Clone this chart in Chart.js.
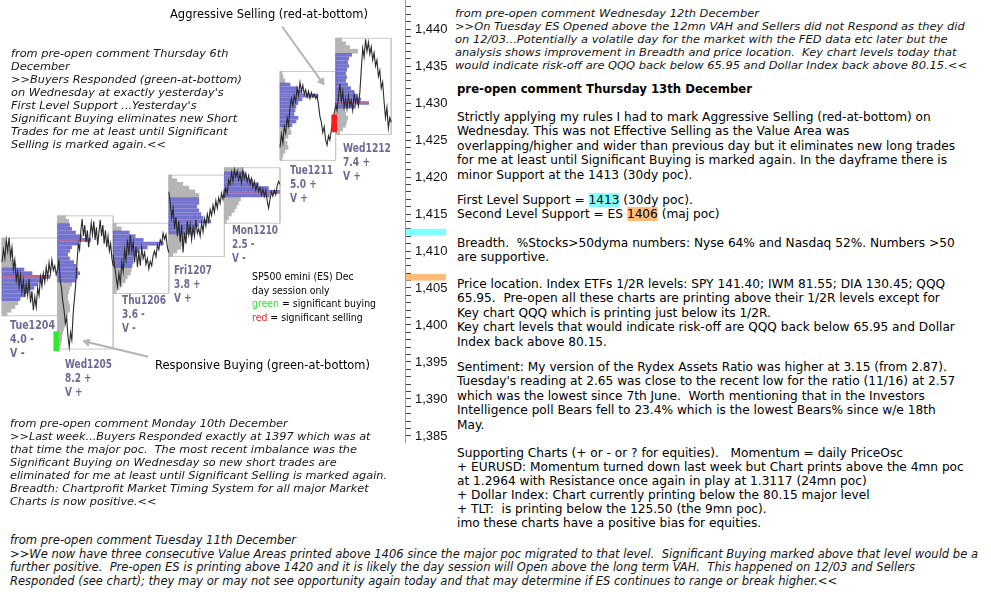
<!DOCTYPE html>
<html><head><meta charset="utf-8">
<script src="https://cdn.jsdelivr.net/npm/chart.js@4/dist/chart.umd.min.js"></script>
<style>
html,body{margin:0;padding:0;background:#fff;width:991px;height:595px;overflow:hidden;position:relative}
#wrap{position:absolute;left:0;top:0;width:455px;height:443px}
.t{position:absolute;white-space:pre;transform-origin:0 0;display:inline-block;z-index:2}
.it{font-family:"DejaVu Sans",Verdana,sans-serif;font-style:italic;font-size:11px;line-height:13.1px;color:#151515}
.itn{font-family:"Liberation Sans Narrow","DejaVu Sans",sans-serif;font-style:italic;font-size:12.5px;line-height:13.7px;color:#151515}
.body{font-family:"DejaVu Sans",Tahoma,sans-serif;font-size:12px;line-height:14.6px;color:#000}
.head{font-family:"DejaVu Sans",Tahoma,sans-serif;font-weight:bold;font-size:12px;line-height:15px;color:#000}
.day{font-family:"DejaVu Sans",Tahoma,sans-serif;font-weight:bold;font-size:11.5px;line-height:14px;color:#6a6a95}
.ann{font-family:"DejaVu Sans",Tahoma,sans-serif;font-size:12px;line-height:14px;color:#000}
.leg{font-family:"DejaVu Sans",Tahoma,sans-serif;font-size:11px;line-height:13.7px;color:#000}
.cy{background:#80ffff}.or{background:#ffbc78}
</style></head><body>
<div id="wrap"><canvas id="c" width="455" height="443"></canvas></div>

<div class="t ann" style="left:170px;top:7px" data-w="198">Aggressive Selling (red-at-bottom)</div>
<div class="t ann" style="left:155px;top:358px" data-w="215">Responsive Buying (green-at-bottom)</div>
<div class="t it" style="left:11px;top:46.5px" data-w="231">from pre-open comment Thursday 6th
December
&gt;&gt;Buyers Responded (green-at-bottom)
on Wednesday at exactly yesterday's
First Level Support ...Yesterday's
Significant Buying eliminates new Short
Trades for me at least until Significant
Selling is marked again.&lt;&lt;</div>
<div class="t leg" style="left:252px;top:270px" data-w="124">SP500 emini (ES) Dec
day session only
<span style="color:#2ee82e">green</span> = significant buying
<span style="color:#ff2020">red</span> = significant selling</div>

<div class="t day" style="left:10px;top:318px" data-w="45">Tue1204
4.0 -
V -</div>
<div class="t day" style="left:65px;top:357px" data-w="47">Wed1205
8.2 +
V +</div>
<div class="t day" style="left:122px;top:293px" data-w="44">Thu1206
3.6 -
V -</div>
<div class="t day" style="left:174px;top:263px" data-w="38">Fri1207
3.8 +
V +</div>
<div class="t day" style="left:232px;top:223px" data-w="46">Mon1210
2.5 -
V -</div>
<div class="t day" style="left:290px;top:163px" data-w="43">Tue1211
5.0 +
V +</div>
<div class="t day" style="left:343px;top:141px" data-w="48">Wed1212
7.4 +
V +</div>

<div class="t it" style="left:455px;top:7px" data-w="512">from pre-open comment Wednesday 12th December
&gt;&gt;On Tuesday ES Opened above the 12mn VAH and Sellers did not Respond as they did
on 12/03...Potentially a volatile day for the market with the FED data etc later but the
analysis shows improvement in Breadth and price location.  Key chart levels today that
would indicate risk-off are QQQ back below 65.95 and Dollar Index back above 80.15.&lt;&lt;</div>
<div class="t head" style="left:457px;top:81.5px" data-w="295">pre-open comment Thursday 13th December</div>

<div class="t body" id="p1" style="left:457px;top:109.7px" data-w="498">Strictly applying my rules I had to mark Aggressive Selling (red-at-bottom) on
Wednesday. This was not Effective Selling as the Value Area was
overlapping/higher and wider than previous day but it eliminates new long trades
for me at least until Significant Buying is marked again. In the dayframe there is
minor Support at the 1413 (30dy poc).</div>
<div class="t body" data-g="p1" style="left:457px;top:192.7px">First Level Support = <span class="cy">1413</span> (30dy poc).
Second Level Support = ES <span class="or">1406</span> (maj poc)</div>
<div class="t body" data-g="p1" style="left:457px;top:235.7px">Breadth.  %Stocks&gt;50dyma numbers: Nyse 64% and Nasdaq 52%. Numbers &gt;50
are supportive.</div>
<div class="t body" data-g="p1" style="left:457px;top:276.7px">Price location. Index ETFs 1/2R levels: SPY 141.40; IWM 81.55; DIA 130.45; QQQ
65.95.  Pre-open all these charts are printing above their 1/2R levels except for
Key chart QQQ which is printing just below its 1/2R.
Key chart levels that would indicate risk-off are QQQ back below 65.95 and Dollar
Index back above 80.15.</div>
<div class="t body" data-g="p1" style="left:457px;top:359.7px">Sentiment: My version of the Rydex Assets Ratio was higher at 3.15 (from 2.87).
Tuesday's reading at 2.65 was close to the recent low for the ratio (11/16) at 2.57
which was the lowest since 7th June.  Worth mentioning that in the Investors
Intelligence poll Bears fell to 23.4% which is the lowest Bears% since w/e 18th
May.</div>
<div class="t body" data-g="p1" style="left:457px;top:446px;line-height:14px">Supporting Charts (+ or - or ? for equities).   Momentum = daily PriceOsc
+ EURUSD: Momentum turned down last week but Chart prints above the 4mn poc
at 1.2964 with Resistance once again in play at 1.3117 (24mn poc)
+ Dollar Index: Chart currently printing below the 80.15 major level
+ TLT:  is printing below the 125.50 (the 9mn poc).
imo these charts have a positive bias for equities.</div>

<div class="t it" style="left:10px;top:416.5px" data-w="377">from pre-open comment Monday 10th December
&gt;&gt;Last week...Buyers Responded exactly at 1397 which was at
that time the major poc.  The most recent imbalance was the
Significant Buying on Wednesday so new short trades are
eliminated for me at least until Significant Selling is marked again.
Breadth: Chartprofit Market Timing System for all major Market
Charts is now positive.&lt;&lt;</div>
<div class="t itn" style="left:10px;top:533px" data-w="968">from pre-open comment Tuesday 11th December
&gt;&gt;We now have three consecutive Value Areas printed above 1406 since the major poc migrated to that level.  Significant Buying marked above that level would be a
further positive.  Pre-open ES is printing above 1420 and it is likely the day session will Open above the long term VAH.  This happened on 12/03 and Sellers
Responded (see chart); they may or may not see opportunity again today and that may determine if ES continues to range or break higher.&lt;&lt;</div>

<script>
// ---------------- data ----------------
const days = ['Tue1204','Wed1205','Thu1206','Fri1207','Mon1210','Tue1211','Wed1212'];
// TPO counts per 0.5-pt level, from each day's high downwards
const profileHigh = [1411.5, 1414.5, 1413.5, 1420, 1421, 1434, 1438.5];
const profileTue1204 = [3,5,6,8,10,9,12,14,22,30,48,40,36,32,26,22,18,16,13,9,5];
const profileWed1205 = [8,11,12,14,18,24,33,20,14,12,10,12,16,18,20,22,20,18,14,12,11,10,10,11,12,12,10,9,8,7,6,5,4,4,3,2];
const profileThu1206 = [3,8,16,22,30,50,34,26,22,20,20,19,18,17,14,12,9,6,3];
const profileFri1207 = [3,8,14,20,26,30,30,30,28,30,32,34,42,30,26,24,18,16,14,12,8,4];
const profileMon1210 = [18,20,22,28,34,44,55,45,16,14,12,10,7,4,2];
const profileTue1211 = [2,3,5,10,18,22,38,22,18,16,15,14,18,16,12,10,11,8,5,7,8,5,3,2];
const profileWed1212 = [6,10,14,22,16,13,12,13,11,10,11,10,12,15,18,22,25,33,20,9,10,12,11,10,7,4];
const pocs   = [1406.5, 1411.5, 1411, 1414, 1418, 1431, 1430];
const vaHigh = [1407.5, 1413.5, 1412.5, 1417, 1420.5, 1432.5, 1436.5];
const vaLow  = [1403.5, 1406, 1408, 1412.5, 1417.5, 1427, 1429.5];
// intraday price path, equal time steps through each session
const priceTue1204 = [1408.5,1410.2,1409.0,1411.5,1410.0,1411.8,1409.2,1410.5,1407.5,1408.8,1406.0,1407.2,1405.2,1406.8,1404.5,1406.0,1403.8,1405.5,1404.0,1406.2,1403.0,1404.6,1402.0,1403.8,1402.4,1405.0,1404.0,1406.5,1405.2,1407.0,1405.8,1407.8,1406.4,1408.4,1407.0,1408.8,1407.4,1408.0,1406.8,1407.6];
const priceWed1205 = [1407.5,1408.8,1406.0,1405.0,1403.2,1402.0,1400.2,1401.0,1398.5,1397.0,1399.0,1398.0,1401.5,1403.5,1405.5,1408.5,1411.0,1410.2,1412.8,1414.3,1412.0,1413.5,1411.2,1412.8,1410.5,1412.0,1413.8,1412.2,1414.0,1411.5,1413.2,1410.8,1412.6,1414.2,1412.0,1413.5,1411.0,1412.8,1410.5,1412.0,1410.0,1411.0,1409.0,1408.0];
const priceThu1206 = [1409.5,1408.0,1406.5,1405.2,1407.0,1405.6,1408.5,1407.2,1410.2,1408.8,1411.5,1409.5,1412.2,1410.0,1411.2,1408.5,1410.6,1407.8,1409.8,1408.0,1410.5,1409.0,1409.8,1408.2,1409.0,1407.6,1408.6,1408.0,1409.4,1410.0,1409.2,1410.8,1410.2,1411.5,1411.0,1412.4,1411.6,1412.2,1410.5,1409.8];
const priceFri1207 = [1418.0,1416.5,1414.5,1415.8,1413.0,1414.6,1412.0,1414.0,1411.2,1413.5,1409.8,1412.5,1411.0,1414.0,1412.2,1413.6,1411.5,1413.2,1412.0,1414.2,1412.4,1413.0,1412.0,1413.8,1412.6,1414.4,1413.4,1415.0,1414.0,1415.6,1414.8,1416.2,1415.2,1416.8,1415.8,1417.2,1416.4,1417.8,1417.0,1418.4];
const priceMon1210 = [1417.2,1418.5,1417.8,1419.6,1419.0,1420.6,1419.4,1421.0,1420.0,1420.8,1419.6,1420.4,1419.2,1420.9,1419.8,1420.5,1419.4,1420.2,1419.0,1419.8,1418.6,1419.4,1418.2,1419.0,1418.0,1418.6,1417.6,1418.4,1417.4,1418.2,1416.8,1415.8,1417.0,1418.0,1417.4,1418.2,1417.6,1418.8,1419.4,1419.0];
const priceTue1211 = [1424.0,1425.8,1424.6,1426.8,1426.0,1428.0,1427.0,1429.4,1430.6,1429.6,1431.0,1430.2,1432.0,1431.0,1432.8,1431.6,1432.4,1431.2,1431.8,1430.8,1431.6,1430.6,1431.4,1430.8,1431.2,1430.6,1431.0,1429.8,1428.2,1427.4,1426.0,1426.8,1425.0,1424.3,1425.6,1425.0,1426.4,1427.6,1428.6,1429.6];
const priceWed1212 = [1430.0,1429.0,1430.8,1432.6,1430.2,1431.6,1429.4,1430.6,1429.2,1431.0,1429.6,1430.4,1429.0,1431.2,1430.0,1430.8,1429.6,1431.4,1434.5,1437.4,1436.2,1438.6,1437.0,1438.2,1436.6,1437.6,1435.8,1436.8,1435.0,1435.8,1433.6,1434.4,1432.0,1432.8,1430.2,1428.0,1429.4,1426.6,1428.0,1427.4];
// significant buying / selling markers
const signalDay  = [1, 6];
const signalLow  = [1396.5, 1426.1];
const signalHigh = [1399.1, 1428.4];
const signalKind = ['buy', 'sell'];
// support levels marked on the price axis
const supportLevels = [1413, 1406];
const supportKind   = ['first', 'second'];
// annotation arrows [day position, price]
const arrowFrom = [[5.04, 1440.3], [2.63, 1395.7]];
const arrowTo   = [[5.75, 1432.9], [1.53, 1397.7]];
const labeledTicks = [1385,1390,1395,1400,1405,1410,1415,1420,1425,1430,1435,1440];

// ---------------- build ----------------
const profiles = [profileTue1204, profileWed1205, profileThu1206, profileFri1207, profileMon1210, profileTue1211, profileWed1212];
const prices = [priceTue1204, priceWed1205, priceThu1206, priceFri1207, priceMon1210, priceTue1211, priceWed1212];
const COUNT_UNIT = 1 / 55.6;
const STEP = 0.5;

const grayBars = [], blueBars = [];
const datasets = [];
profiles.forEach((arr, i) => {
  arr.forEach((c, k) => {
    const p = profileHigh[i] - k * STEP;
    const bar = { y: p, x: [i, i + c * COUNT_UNIT] };
    if (p <= vaHigh[i] + 1e-9 && p >= vaLow[i] - 1e-9) blueBars.push(bar); else grayBars.push(bar);
  });
  const hi = profileHigh[i] + 0.25, lo = profileHigh[i] - (arr.length - 1) * STEP - 0.25;
  datasets.push({ type: 'line', data: [{x:i,y:lo},{x:i,y:hi},{x:i+1,y:hi},{x:i+1,y:lo},{x:i,y:lo}],
    borderColor: '#c9c9c9', borderWidth: 1, pointRadius: 0, order: 50, tension: 0 });
  const pocIdx = Math.round((profileHigh[i] - pocs[i]) / STEP);
  datasets.push({ type: 'line', data: [{x:i,y:pocs[i]},{x:i + arr[pocIdx]*COUNT_UNIT, y:pocs[i]}],
    borderColor: '#ff5a5a', borderWidth: 1, pointRadius: 0, order: 20 });
  const pr = prices[i];
  datasets.push({ type: 'line', data: pr.map((v, j) => ({ x: i + j / (pr.length - 1), y: v })),
    borderColor: '#2b2b2b', borderWidth: 1.1, pointRadius: 0, order: 10, tension: 0 });
});
datasets.push({ type: 'bar', indexAxis: 'y', data: grayBars, backgroundColor: '#b5b5b5', barThickness: 4, grouped: false, order: 40, borderWidth: 0 });
datasets.push({ type: 'bar', indexAxis: 'y', data: blueBars, backgroundColor: 'rgba(70,70,190,0.75)', barThickness: 3, grouped: false, order: 30, borderWidth: 0 });
signalDay.forEach((d, k) => {
  datasets.push({ type: 'bar', indexAxis: 'x', data: [{ x: d - 0.025, y: [signalLow[k], signalHigh[k]] }],
    backgroundColor: signalKind[k] === 'buy' ? '#33e833' : '#ff1a1a', barThickness: 5, grouped: false, order: 5, borderWidth: 0 });
});
arrowFrom.forEach((a, k) => {
  const b = arrowTo[k];
  datasets.push({ type: 'line', data: [{x:a[0],y:a[1]},{x:b[0],y:b[1]}], borderColor: '#b4b4b4', borderWidth: 2,
    pointRadius: [0, 5], pointStyle: 'triangle', pointBackgroundColor: '#b4b4b4', pointBorderColor: '#b4b4b4', pointBorderWidth: 0, order: 1,
    pointRotation: (c) => {
      const s = c.chart.scales;
      const dx = s.x.getPixelForValue(b[0]) - s.x.getPixelForValue(a[0]);
      const dy = s.y.getPixelForValue(b[1]) - s.y.getPixelForValue(a[1]);
      return Math.atan2(dy, dx) * 180 / Math.PI + 90;
    } });
});

// level markers beside the price axis: first level band hangs below its price, second sits above
const supportPlugin = {
  id: 'supports',
  afterDraw(chart) {
    const { ctx, chartArea } = chart; const y = chart.scales.y;
    supportLevels.forEach((lv, k) => {
      const first = supportKind[k] === 'first';
      const a = y.getPixelForValue(first ? lv : lv + 0.9), b = y.getPixelForValue(first ? lv - 0.9 : lv);
      ctx.save();
      ctx.fillStyle = first ? '#80ffff' : '#ffbc78';
      ctx.fillRect(chartArea.right + 1, a, 40, b - a);
      ctx.restore();
    });
  }
};

new Chart(document.getElementById('c'), {
  type: 'scatter',
  data: { datasets },
  plugins: [supportPlugin],
  options: {
    responsive: false, animation: false, events: [],
    layout: { padding: 0, autoPadding: false },
    plugins: { legend: { display: false }, tooltip: { enabled: false } },
    scales: {
      x: { type: 'linear', display: false, offset: false, min: -0.036, max: 7.248 },
      y: {
        type: 'linear', position: 'right', offset: false, min: 1384.054, max: 1443.919,
        afterBuildTicks: (s) => { const t = []; for (let v = 1385; v <= 1443; v++) t.push({ value: v }); s.ticks = t; },
        afterFit: (s) => { s.width = 50; s.paddingTop = 0; s.paddingBottom = 0; },
        ticks: { padding: 4, color: '#111', autoSkip: false, font: { family: 'Liberation Sans, Arial', size: 13 },
          callback: (v) => labeledTicks.includes(v) ? v.toLocaleString('en-US') : '' },
        grid: { drawOnChartArea: false, drawTicks: true, tickLength: 6, color: '#444', offset: false },
        border: { display: true, color: '#a09a90', width: 1 }
      }
    }
  }
});

const scales = {};
document.querySelectorAll('.t[data-w]').forEach(el => {
  const w = el.getBoundingClientRect().width;
  const s = parseFloat(el.dataset.w) / w;
  if (el.id) scales[el.id] = s;
  el.style.transform = 'scaleX(' + s + ')';
});
document.querySelectorAll('.t[data-g]').forEach(el => {
  el.style.transform = 'scaleX(' + scales[el.dataset.g] + ')';
});
</script>
</body></html>
